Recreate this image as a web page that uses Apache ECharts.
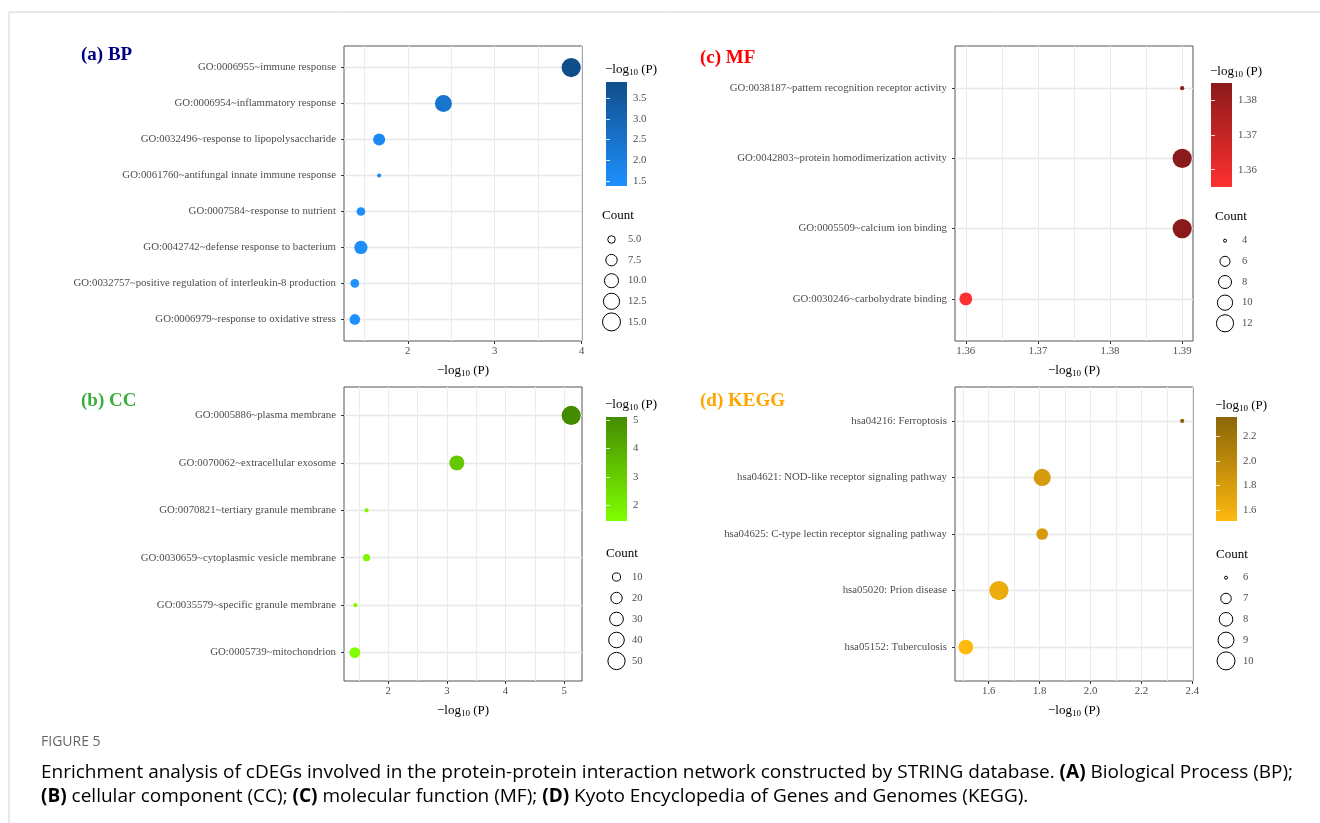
<!DOCTYPE html>
<html>
<head>
<meta charset="utf-8">
<title>Figure 5 enrichment bubble charts</title>
<script src="https://cdn.jsdelivr.net/npm/echarts@6/dist/echarts.min.js"></script>
<style>
  html, body { margin: 0; padding: 0; background: #ffffff; }
  #chart { width: 1320px; height: 823px; }
</style>
</head>
<body>
<div id="chart"></div>
<script>
// ---- (a) Biological process ----
const bpTerms = [
  'GO:0006955~immune response',
  'GO:0006954~inflammatory response',
  'GO:0032496~response to lipopolysaccharide',
  'GO:0061760~antifungal innate immune response',
  'GO:0007584~response to nutrient',
  'GO:0042742~defense response to bacterium',
  'GO:0032757~positive regulation of interleukin-8 production',
  'GO:0006979~response to oxidative stress'
];
const bpLogP = [3.88, 2.41, 1.67, 1.67, 1.46, 1.46, 1.39, 1.39];
const bpCount = [15, 12, 7, 4, 5, 8, 5, 6];
const bpXTicks = [2, 3, 4];
const bpXGrid = [1.5, 2, 2.5, 3, 3.5, 4];
const bpColourTicks = [1.5, 2.0, 2.5, 3.0, 3.5];
const bpCountBreaks = [5, 7.5, 10, 12.5, 15];

// ---- (b) Cellular component ----
const ccTerms = [
  'GO:0005886~plasma membrane',
  'GO:0070062~extracellular exosome',
  'GO:0070821~tertiary granule membrane',
  'GO:0030659~cytoplasmic vesicle membrane',
  'GO:0035579~specific granule membrane',
  'GO:0005739~mitochondrion'
];
const ccLogP = [5.12, 3.17, 1.63, 1.63, 1.44, 1.43];
const ccCount = [55, 30, 4, 6, 4, 14];
const ccXTicks = [2, 3, 4, 5];
const ccXGrid = [1.5, 2, 2.5, 3, 3.5, 4, 4.5, 5];
const ccColourTicks = [2, 3, 4, 5];
const ccCountBreaks = [10, 20, 30, 40, 50];

// ---- (c) Molecular function ----
const mfTerms = [
  'GO:0038187~pattern recognition receptor activity',
  'GO:0042803~protein homodimerization activity',
  'GO:0005509~calcium ion binding',
  'GO:0030246~carbohydrate binding'
];
const mfLogP = [1.39, 1.39, 1.39, 1.36];          // rounded, used for position
const mfLogPExact = [1.385, 1.385, 1.385, 1.355]; // unrounded, used for colour
const mfCount = [4, 13, 13, 7];
const mfXTicks = [1.36, 1.37, 1.38, 1.39];
const mfXGrid = [1.36, 1.365, 1.37, 1.375, 1.38, 1.385, 1.39];
const mfColourTicks = [1.36, 1.37, 1.38];
const mfCountBreaks = [4, 6, 8, 10, 12];

// ---- (d) KEGG pathways ----
const keggTerms = [
  'hsa04216: Ferroptosis',
  'hsa04621: NOD-like receptor signaling pathway',
  'hsa04625: C-type lectin receptor signaling pathway',
  'hsa05020: Prion disease',
  'hsa05152: Tuberculosis'
];
const keggLogP = [2.36, 1.81, 1.81, 1.64, 1.51];
const keggCount = [6, 9, 7, 10, 8];
const keggXTicks = [1.6, 1.8, 2.0, 2.2, 2.4];
const keggXGrid = [1.5, 1.6, 1.7, 1.8, 1.9, 2.0, 2.1, 2.2, 2.3, 2.4];
const keggColourTicks = [1.6, 1.8, 2.0, 2.2];
const keggCountBreaks = [6, 7, 8, 9, 10];

// ---- layout and styling of each panel ----
const SERIF = '"Liberation Serif", "Times New Roman", serif';
const SANS = '"Open Sans", "Noto Sans", sans-serif';
const PT = 3.0;      // px per ggplot size unit
const STROKE = 1.2;  // extra width from the point outline
const AXIS_FS = 10.8;

const panels = [
  {
    title: '(a) BP', titleColor: '#000080', titleAt: [81, 55],
    terms: bpTerms, x: bpLogP, colour: bpLogP, count: bpCount,
    xTicks: bpXTicks, xGrid: bpXGrid, xDigits: 0,
    colourTicks: bpColourTicks, colourDigits: 1,
    breaks: bpCountBreaks, breakDigits: 1,
    low: '#1E90FF', high: '#104E8B',
    grid: { left: 344, top: 46, width: 238, height: 295 },
    bar: { left: 606, top: 82, width: 21, height: 104 }, barTitleAt: [605, 70],
    countTitleAt: [602, 216], keyX: 611.5, keyLabelX: 628, keyTop: 239.5, keyStep: 20.6
  },
  {
    title: '(b) CC', titleColor: '#3AAE3A', titleAt: [81, 401],
    terms: ccTerms, x: ccLogP, colour: ccLogP, count: ccCount,
    xTicks: ccXTicks, xGrid: ccXGrid, xDigits: 0,
    colourTicks: ccColourTicks, colourDigits: 0,
    breaks: ccCountBreaks, breakDigits: 0,
    low: '#7FFF00', high: '#458B00',
    grid: { left: 344, top: 387, width: 238, height: 294 },
    bar: { left: 606, top: 417, width: 21, height: 104 }, barTitleAt: [605, 405],
    countTitleAt: [606, 554], keyX: 616.5, keyLabelX: 632, keyTop: 577, keyStep: 21
  },
  {
    title: '(c) MF', titleColor: '#FF0000', titleAt: [700, 58],
    terms: mfTerms, x: mfLogP, colour: mfLogPExact, count: mfCount,
    xTicks: mfXTicks, xGrid: mfXGrid, xDigits: 2,
    colourTicks: mfColourTicks, colourDigits: 2,
    breaks: mfCountBreaks, breakDigits: 0,
    low: '#FF3030', high: '#8B1A1A',
    grid: { left: 955, top: 46, width: 238, height: 295 },
    bar: { left: 1211, top: 83, width: 21, height: 104 }, barTitleAt: [1210, 72],
    countTitleAt: [1215, 217], keyX: 1225, keyLabelX: 1242, keyTop: 240.7, keyStep: 20.65
  },
  {
    title: '(d) KEGG', titleColor: '#FFA500', titleAt: [700, 401],
    terms: keggTerms, x: keggLogP, colour: keggLogP, count: keggCount,
    xTicks: keggXTicks, xGrid: keggXGrid, xDigits: 1,
    colourTicks: keggColourTicks, colourDigits: 1,
    breaks: keggCountBreaks, breakDigits: 0,
    low: '#FFB90F', high: '#8B6508',
    grid: { left: 955, top: 387, width: 238, height: 294 },
    bar: { left: 1216, top: 417, width: 21, height: 104 }, barTitleAt: [1215, 406],
    countTitleAt: [1216, 555], keyX: 1226, keyLabelX: 1243, keyTop: 577.7, keyStep: 20.8
  }
];

const logName = '{a|\u2212log}{s|10}{a| (P)}';
const logRich = {
  a: { fontSize: 13, fontFamily: SERIF, color: '#000000', lineHeight: 15 },
  s: { fontSize: 9, fontFamily: SERIF, color: '#000000', lineHeight: 15, padding: [6, 0, 0, 0] }
};

const option = {
  animation: false,
  backgroundColor: '#ffffff',
  grid: [], xAxis: [], yAxis: [], series: [], visualMap: [], graphic: []
};

function extent(arr) { return [Math.min.apply(null, arr), Math.max.apply(null, arr)]; }

panels.forEach(function (p) {
  const n = p.terms.length;
  const cExt = extent(p.count);
  const sizeOf = function (v) {
    return PT * (1 + 5 * Math.sqrt((v - cExt[0]) / (cExt[1] - cExt[0])));
  };
  const xExt = extent(p.x);
  const xPad = 0.05 * (xExt[1] - xExt[0]);
  const colExt = extent(p.colour);

  // main plotting panel
  const gi = option.grid.length;
  option.grid.push(Object.assign({
    show: true, borderColor: '#555555', borderWidth: 1,
    backgroundColor: 'transparent', containLabel: false, outerBoundsMode: 'none'
  }, p.grid));

  const xi = option.xAxis.length;
  // grid lines (major and minor)
  option.xAxis.push({
    type: 'value', gridIndex: gi, min: xExt[0] - xPad, max: xExt[1] + xPad,
    axisLine: { show: false },
    axisTick: { show: false, customValues: p.xGrid },
    axisLabel: { show: false },
    splitLine: { show: true, lineStyle: { color: '#ebebeb', width: 1 } }
  });
  // ticks, labels and title
  option.xAxis.push({
    type: 'value', gridIndex: gi, position: 'bottom',
    min: xExt[0] - xPad, max: xExt[1] + xPad,
    axisLine: { show: false },
    axisTick: { show: true, length: 3, customValues: p.xTicks, lineStyle: { color: '#333333', width: 1 } },
    axisLabel: {
      customValues: p.xTicks, margin: 5, color: '#4d4d4d', fontSize: AXIS_FS, fontFamily: SERIF,
      formatter: function (v) { return Number(v).toFixed(p.xDigits); }
    },
    splitLine: { show: false },
    name: logName, nameLocation: 'middle', nameGap: 22,
    nameTextStyle: { rich: logRich }
  });

  const yi = option.yAxis.length;
  const rows = p.terms.map(function (t, i) { return i + 1; });
  option.yAxis.push({
    type: 'value', gridIndex: gi, min: 0.4, max: n + 0.6,
    axisLine: { show: false },
    axisTick: { show: true, length: 3, customValues: rows, lineStyle: { color: '#333333', width: 1 } },
    axisLabel: {
      customValues: rows, margin: 8, color: '#4d4d4d', fontSize: AXIS_FS, fontFamily: SERIF,
      formatter: function (v) { return p.terms[n - Math.round(v)]; }
    },
    splitLine: { show: true, lineStyle: { color: '#e8e8e8', width: 1.3 } }
  });

  const si = option.series.length;
  option.series.push({
    type: 'scatter', xAxisIndex: xi, yAxisIndex: yi, silent: true,
    symbol: 'circle',
    symbolSize: function (val) { return sizeOf(val[2]) + STROKE; },
    itemStyle: { opacity: 1 },
    data: p.terms.map(function (t, i) { return [p.x[i], n - i, p.count[i], p.colour[i]]; })
  });
  option.visualMap.push({
    type: 'continuous', show: false, seriesIndex: si, dimension: 3,
    min: colExt[0], max: colExt[1], inRange: { color: [p.low, p.high] }
  });

  // colour bar
  const bi = option.grid.length;
  option.grid.push(Object.assign({ show: false, containLabel: false, outerBoundsMode: 'none' }, p.bar));
  option.xAxis.push({ type: 'value', gridIndex: bi, show: false, min: 0, max: 1 });
  ['right', 'left'].forEach(function (side) {
    option.yAxis.push({
      type: 'value', gridIndex: bi, position: side, min: colExt[0], max: colExt[1], z: 5,
      axisLine: { show: false },
      axisTick: { show: true, inside: true, length: 4, customValues: p.colourTicks,
                  lineStyle: { color: '#ffffff', width: 1, opacity: 0.8 } },
      axisLabel: {
        show: side === 'right', customValues: p.colourTicks, margin: 6,
        color: '#4d4d4d', fontSize: AXIS_FS, fontFamily: SERIF,
        formatter: function (v) { return Number(v).toFixed(p.colourDigits); }
      },
      splitLine: { show: false }
    });
  });
  option.graphic.push({
    type: 'rect', z: 0, silent: true,
    shape: { x: p.bar.left, y: p.bar.top, width: p.bar.width, height: p.bar.height },
    style: {
      fill: new echarts.graphic.LinearGradient(0, 0, 0, 1, [
        { offset: 0, color: p.high }, { offset: 1, color: p.low }
      ])
    }
  });
  option.graphic.push({
    type: 'text', silent: true, x: p.barTitleAt[0], y: p.barTitleAt[1],
    style: {
      text: logName, verticalAlign: 'middle', align: 'left',
      rich: logRich
    }
  });

  // panel title
  option.graphic.push({
    type: 'text', silent: true, x: p.titleAt[0], y: p.titleAt[1],
    style: {
      text: p.title, fill: p.titleColor, font: 'bold 19px ' + SERIF,
      verticalAlign: 'middle', align: 'left'
    }
  });

  // size key
  option.graphic.push({
    type: 'text', silent: true, x: p.countTitleAt[0], y: p.countTitleAt[1],
    style: { text: 'Count', fill: '#000000', font: '13px ' + SERIF, verticalAlign: 'middle' }
  });
  p.breaks.forEach(function (b, j) {
    const cy = p.keyTop + j * p.keyStep;
    option.graphic.push({
      type: 'circle', silent: true,
      shape: { cx: p.keyX, cy: cy, r: Math.max(sizeOf(b) / 2, 1.2) },
      style: { fill: 'transparent', stroke: '#000000', lineWidth: 1 }
    });
    option.graphic.push({
      type: 'text', silent: true, x: p.keyLabelX, y: cy,
      style: {
        text: b.toFixed(p.breakDigits), fill: '#4d4d4d', font: '10.5px ' + SERIF,
        verticalAlign: 'middle', align: 'left'
      }
    });
  });
});

// figure frame and caption
option.graphic.push({
  type: 'line', silent: true, shape: { x1: 9, y1: 12, x2: 1320, y2: 12 },
  style: { stroke: '#d2d2d2', lineWidth: 1 }
});
option.graphic.push({
  type: 'line', silent: true, shape: { x1: 9, y1: 12, x2: 9, y2: 823 },
  style: { stroke: '#d2d2d2', lineWidth: 1 }
});
const capRich = {
  n: { fontFamily: SANS, fontSize: 19, color: '#5c5c5c' },
  b: { fontFamily: SANS, fontSize: 19, color: '#5c5c5c', fontWeight: 'bold' }
};
option.graphic.push({
  type: 'text', silent: true, x: 41, y: 742,
  style: { text: 'FIGURE 5', fill: '#666666', font: '14px ' + SANS, verticalAlign: 'middle' }
});
option.graphic.push({
  type: 'text', silent: true, x: 41, y: 773,
  style: {
    text: '{n|Enrichment analysis of cDEGs involved in the protein-protein interaction network constructed by STRING database. }{b|(A)}{n| Biological Process (BP);}',
    rich: capRich, verticalAlign: 'middle'
  }
});
option.graphic.push({
  type: 'text', silent: true, x: 41, y: 797,
  style: {
    text: '{b|(B)}{n| cellular component (CC); }{b|(C)}{n| molecular function (MF); }{b|(D)}{n| Kyoto Encyclopedia of Genes and Genomes (KEGG).}',
    rich: capRich, verticalAlign: 'middle'
  }
});

const chart = echarts.init(document.getElementById('chart'), null, { renderer: 'canvas' });
chart.setOption(option);
</script>
</body>
</html>
